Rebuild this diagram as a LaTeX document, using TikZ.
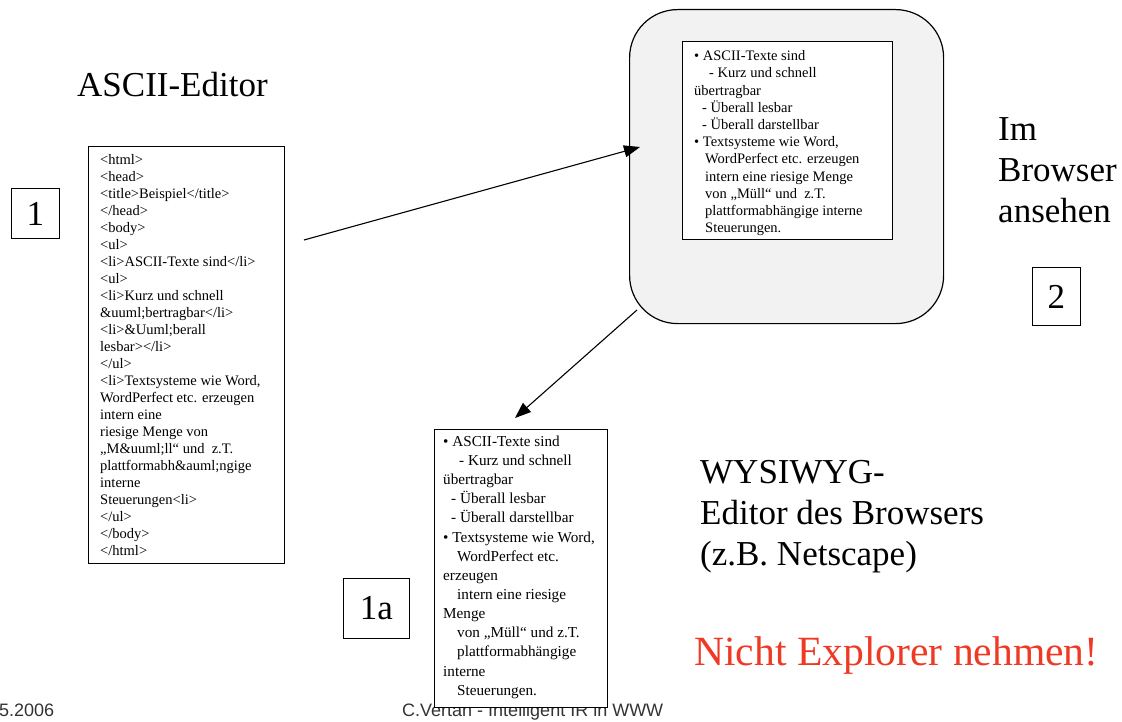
\documentclass[tikz,border=0pt]{standalone}
\usepackage{fontspec}
\setmainfont{Liberation Serif}
\newfontfamily\footfont{Liberation Sans}
\usetikzlibrary{arrows.meta}
\definecolor{redtxt}{RGB}{238,58,36}
\definecolor{panel}{RGB}{242,242,242}
\begin{document}
\begin{tikzpicture}[x=1pt,y=-1pt,
  box/.style={draw=black, line width=0.9pt, fill=white, inner sep=0pt, anchor=north west},
  small/.style={font=\fontsize{14.5}{17}\selectfont, inner sep=0pt, align=left, anchor=north west},
  lowtxt/.style={font=\fontsize{15.2}{19.15}\selectfont, inner sep=0pt, align=left, anchor=north west},
  big/.style={font=\fontsize{35}{41}\selectfont, inner sep=0pt, align=left, anchor=base west},
  numlab/.style={font=\fontsize{35}{41}\selectfont, inner sep=0pt},
  foot/.style={font=\footfont\fontsize{18}{20}\selectfont, text=black!80, inner sep=0pt, anchor=base west},
  conn/.style={line width=1.1pt, -{Triangle[length=16pt,width=12pt]}}]
\useasboundingbox (0,0) rectangle (1122,722);

% footer (behind the lower box)
\node[foot] (date) at (-1,716) {5.2006};
\node[foot] (footer) at (402,716) {C.Vertan - Intelligent IR in WWW};

% left: ASCII editor
\node[big] (asciied) at (77,97) {ASCII-Editor};
\node[box, minimum width=48pt, minimum height=50pt] (b1) at (11,188) {};
\node[numlab] (l1) at (b1.center) {1};
\node[box, minimum width=196pt, minimum height=417pt] (html) at (88,146) {};
\node[small] (htmltxt) at (100,154) {<html>\\
<head>\\
<title>Beispiel</title>\\
</head>\\
<body>\\
<ul>\\
<li>ASCII-Texte sind</li>\\
<ul>\\
<li>Kurz und schnell\\
\&uuml;bertragbar</li>\\
<li>\&Uuml;berall\\
lesbar></li>\\
</ul>\\
<li>Textsysteme wie Word,\\
WordPerfect etc. erzeugen\\
intern eine\\
riesige Menge von\\
„M\&uuml;ll“ und\ \ z.T.\\
plattformabh\&auml;ngige\\
interne\\
Steuerungen<li>\\
</ul>\\
</body>\\
</html>};

% browser
\node[draw=black, line width=1.2pt, fill=panel, rounded corners=48pt,
      minimum width=314pt, minimum height=314pt, anchor=north west] (browser) at (629,9) {};
\node[box, minimum width=210pt, minimum height=198pt] (inner) at (682,41) {};
\node[font=\fontsize{14.5}{17.2}\selectfont, inner sep=0pt, align=left, anchor=north west] (innertxt) at (694,50.5) {• ASCII-Texte sind\\
\hspace*{15pt}- Kurz und schnell\\
übertragbar\\
\hspace*{8pt}- Überall lesbar\\
\hspace*{8pt}- Überall darstellbar\\
• Textsysteme wie Word,\\
\hspace*{11pt}WordPerfect etc. erzeugen\\
\hspace*{11pt}intern eine riesige Menge\\
\hspace*{11pt}von „Müll“ und\ \ z.T.\\
\hspace*{11pt}plattformabhängige interne\\
\hspace*{11pt}Steuerungen.};

\node[big] (im) at (998,223) {Im\\Browser\\ansehen};
\node[box, minimum width=48pt, minimum height=58pt] (b2) at (1032,267) {};
\node[numlab] (l2) at (b2.center) {2};

% lower: WYSIWYG result
\node[box, minimum width=173pt, minimum height=278pt] (lower) at (434,429) {};
\node[lowtxt] (lowertxt) at (443,435.5) {• ASCII-Texte sind\\
\hspace*{16pt}- Kurz und schnell\\
übertragbar\\
\hspace*{8pt}- Überall lesbar\\
\hspace*{8pt}- Überall darstellbar\\
• Textsysteme wie Word,\\
\hspace*{14pt}WordPerfect etc.\\
erzeugen\\
\hspace*{14pt}intern eine riesige\\
Menge\\
\hspace*{14pt}von „Müll“ und z.T.\\
\hspace*{14pt}plattformabhängige\\
interne\\
\hspace*{14pt}Steuerungen.};
\node[box, minimum width=66pt, minimum height=60pt] (b1a) at (343,578) {};
\node[numlab] (l1a) at (b1a.center) {1a};

\node[big] (wysiwyg) at (700,565) {WYSIWYG-\\Editor des Browsers\\(z.B. Netscape)};
\node[big, font=\fontsize{41.6}{48}\selectfont, text=redtxt] (nicht) at (694,665) {Nicht Explorer nehmen!};

% connectors
\coordinate (a1s) at (304,240);
\coordinate (a1e) at (640,147);
\coordinate (a2s) at (637,310);
\coordinate (a2e) at (515,418);
\draw[conn] (a1s) -- (a1e);
\draw[conn] (a2s) -- (a2e);
\end{tikzpicture}
\end{document}
